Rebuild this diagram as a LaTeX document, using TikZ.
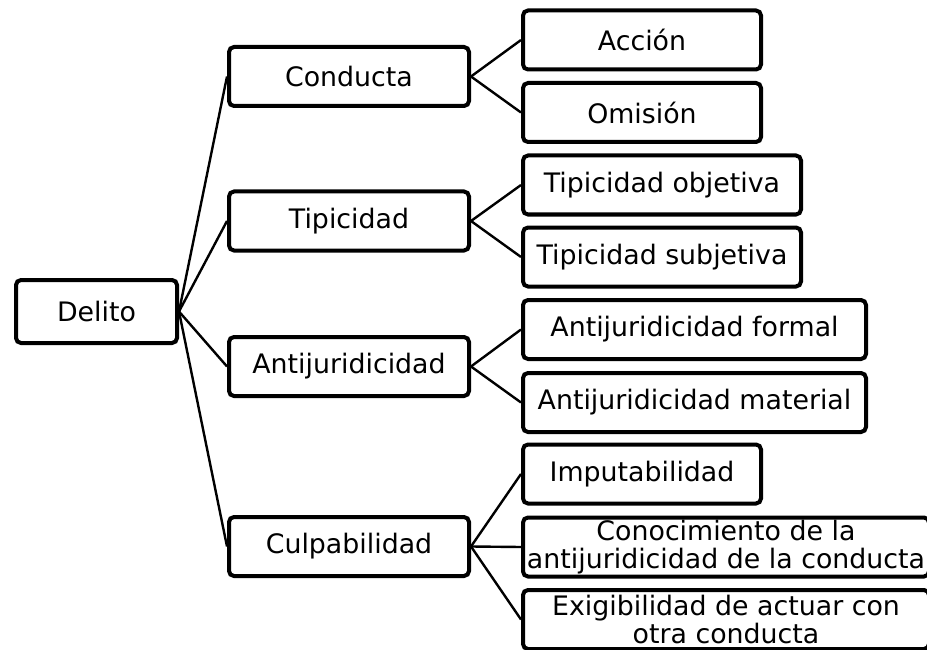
\documentclass[tikz,border=0pt]{standalone}
\usepackage{fontspec}
\setmainfont{DejaVu Sans}
\usetikzlibrary{backgrounds}
\begin{document}
\begin{tikzpicture}[x=1pt,y=-1pt,
  box/.style={draw=black, fill=white, line width=4pt, rounded corners=5pt,
    inner sep=0pt, align=center, font=\fontsize{26.8}{28}\selectfont, minimum height=59pt},
  link/.style={line width=2.4pt}]
\useasboundingbox (0,0) rectangle (927,650);
\clip (0,0) rectangle (927,650);
% level 0
\node[box, minimum width=161pt, minimum height=63pt] (del) at (96.5,311.5) {Delito};
% level 1
\node[box, minimum width=240pt] (con) at (349,76.5) {Conducta};
\node[box, minimum width=240pt] (tip) at (349,221) {Tipicidad};
\node[box, minimum width=240pt] (ant) at (349,366.5) {Antijuridicidad};
\node[box, minimum width=240pt] (cul) at (349,546.5) {Culpabilidad};
% level 2
\node[box, minimum width=238pt] (acc) at (642,40) {Acción};
\node[box, minimum width=238pt] (omi) at (642,112.5) {Omisión};
\node[box, minimum width=278pt] (tob) at (662,185) {Tipicidad objetiva};
\node[box, minimum width=278pt] (tsu) at (662,257) {Tipicidad subjetiva};
\node[box, minimum width=343pt] (afo) at (694.5,329.5) {Antijuridicidad formal};
\node[box, minimum width=343pt] (ama) at (694.5,402.5) {Antijuridicidad material};
\node[box, minimum width=238pt] (imp) at (642,474) {Imputabilidad};
\node[box, minimum width=406pt] (cono) at (726,547) {Conocimiento de la\\antijuridicidad de la conducta};
\node[box, minimum width=406pt] (exi) at (726,619.5) {Exigibilidad de actuar con\\otra conducta};
% connectors
\begin{scope}[on background layer]
\draw[link] (del.east) -- (con.west);
\draw[link] (del.east) -- (tip.west);
\draw[link] (del.east) -- (ant.west);
\draw[link] (del.east) -- (cul.west);
\draw[link] (con.east) -- (acc.west);
\draw[link] (con.east) -- (omi.west);
\draw[link] (tip.east) -- (tob.west);
\draw[link] (tip.east) -- (tsu.west);
\draw[link] (ant.east) -- (afo.west);
\draw[link] (ant.east) -- (ama.west);
\draw[link] (cul.east) -- (imp.west);
\draw[link] (cul.east) -- (cono.west);
\draw[link] (cul.east) -- (exi.west);
\end{scope}
\end{tikzpicture}
\end{document}
